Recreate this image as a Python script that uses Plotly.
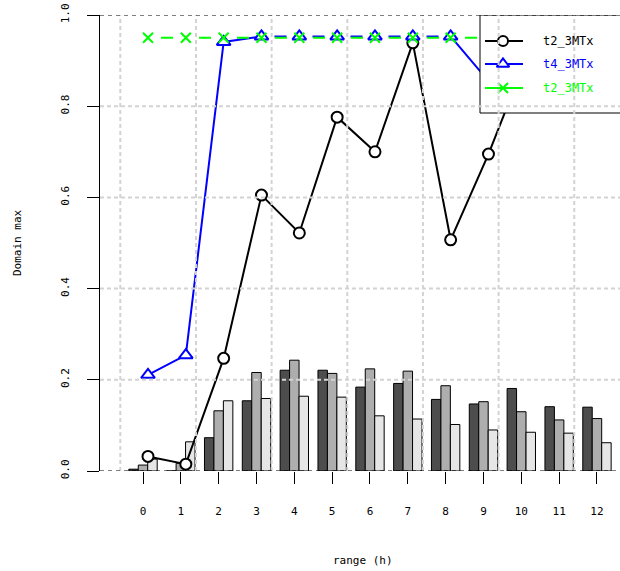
import plotly.graph_objects as go

# ---- data ----
hours = [0, 1, 2, 3, 4, 5, 6, 7, 8, 9, 10, 11, 12]
hour_labels = ["0", "1", "2", "3", "4", "5", "6", "7", "8", "9", "10", "11", "12"]
y_ticks = [0.0, 0.2, 0.4, 0.6, 0.8, 1.0]
y_tick_labels = ["0.0", "0.2", "0.4", "0.6", "0.8", "1.0"]

bars_dark = [0.004, 0.0, 0.073, 0.154, 0.221, 0.221, 0.184, 0.192, 0.157, 0.147, 0.181, 0.141, 0.140]
bars_mid = [0.013, 0.017, 0.132, 0.216, 0.243, 0.214, 0.224, 0.219, 0.187, 0.152, 0.130, 0.112, 0.115]
bars_light = [0.026, 0.064, 0.154, 0.159, 0.164, 0.162, 0.121, 0.114, 0.102, 0.090, 0.085, 0.083, 0.062]

t2_black = [0.032, 0.015, 0.247, 0.605, 0.522, 0.776, 0.700, 0.939, 0.507, 0.695, 0.905, 0.880, 0.900]
t4_blue = [0.211, 0.254, 0.941, 0.953, 0.953, 0.953, 0.953, 0.953, 0.953, 0.855, 0.850, 0.860, 0.850]
t2_green = [0.950, 0.950, 0.950, 0.950, 0.950, 0.950, 0.950, 0.950, 0.950, 0.950, 0.950, 0.950, 0.950]

series_names = ["t2_3MTx", "t4_3MTx", "t2_3MTx"]

FONT = "DejaVu Sans Mono"
BLUE = "#0000FF"
GREEN = "#00FF00"
GAP_DASH = "0px,13px,12px,13px"   # line broken around each point (type "b" look)

fig = go.Figure()

# grouped grey bars
for vals, col in [(bars_dark, "#4D4D4D"), (bars_mid, "#AEAEAE"), (bars_light, "#E6E6E6")]:
    fig.add_trace(go.Bar(x=hours, y=vals, marker=dict(color=col, line=dict(color="black", width=1)),
                         showlegend=False, hoverinfo="skip"))

# line series on their own (slightly shifted) x axis
fig.add_trace(go.Scatter(x=hours, y=t2_black, xaxis="x2", yaxis="y", mode="lines+markers",
                         line=dict(color="black", width=2),
                         marker=dict(symbol="circle", size=11, color="white",
                                     line=dict(color="black", width=2)),
                         showlegend=False))

fig.add_trace(go.Scatter(x=hours[:4], y=t4_blue[:4], xaxis="x2", yaxis="y", mode="lines",
                         line=dict(color=BLUE, width=2), showlegend=False))
fig.add_trace(go.Scatter(x=hours[3:9], y=t4_blue[3:9], xaxis="x2", yaxis="y", mode="lines",
                         line=dict(color=BLUE, width=2, dash=GAP_DASH), showlegend=False))
fig.add_trace(go.Scatter(x=hours[8:], y=t4_blue[8:], xaxis="x2", yaxis="y", mode="lines",
                         line=dict(color=BLUE, width=2), showlegend=False))
fig.add_trace(go.Scatter(x=hours, y=t4_blue, xaxis="x2", yaxis="y", mode="markers",
                         marker=dict(symbol="triangle-up", size=12, color="white",
                                     line=dict(color=BLUE, width=2)),
                         showlegend=False))

fig.add_trace(go.Scatter(x=hours, y=t2_green, xaxis="x2", yaxis="y", mode="lines+markers",
                         line=dict(color=GREEN, width=2, dash=GAP_DASH),
                         marker=dict(symbol="x-thin", size=10, line=dict(color=GREEN, width=2)),
                         showlegend=False))

# hand-drawn legend in a pixel-like overlay frame
fig.add_trace(go.Scatter(x=[480, 640, 640, 480, 480], y=[15, 15, 113, 113, 15], xaxis="x3", yaxis="y3",
                         mode="lines", fill="toself", fillcolor="white",
                         line=dict(color="black", width=1), showlegend=False, hoverinfo="skip"))
legend_rows = [
    (41, "black", dict(symbol="circle", size=10, color="white", line=dict(color="black", width=2))),
    (64, BLUE, dict(symbol="triangle-up", size=11, color="white", line=dict(color=BLUE, width=2))),
    (88, GREEN, dict(symbol="x-thin", size=10, line=dict(color=GREEN, width=2))),
]
for (ypix, col, mk), name in zip(legend_rows, series_names):
    fig.add_trace(go.Scatter(x=[485, 523], y=[ypix, ypix], xaxis="x3", yaxis="y3", mode="lines",
                             line=dict(color=col, width=2), showlegend=False, hoverinfo="skip"))
    fig.add_trace(go.Scatter(x=[503], y=[ypix], xaxis="x3", yaxis="y3", mode="markers",
                             marker=mk, showlegend=False, hoverinfo="skip"))
    fig.add_annotation(x=541, y=ypix, xref="x3", yref="y3", text=name, showarrow=False,
                       xanchor="left", yanchor="middle", font=dict(family=FONT, size=12, color=col))

# dashed grid drawn on top of everything
shapes = []
for gx in [-0.6, 1.4, 3.4, 5.4, 7.4, 9.4, 11.4]:
    shapes.append(dict(type="line", xref="x", yref="y", x0=gx, x1=gx, y0=0, y1=1, layer="above",
                       line=dict(color="#D3D3D3", width=2, dash="4px,3px")))
for gy in [0.2, 0.4, 0.6, 0.8]:
    shapes.append(dict(type="line", xref="paper", yref="y", x0=0, x1=1, y0=gy, y1=gy, layer="above",
                       line=dict(color="#D3D3D3", width=2, dash="4px,3px")))
for gy in [0.0, 1.0]:
    shapes.append(dict(type="line", xref="paper", yref="y", x0=0, x1=1, y0=gy, y1=gy, layer="above",
                       line=dict(color="black", width=1, dash="4px,4px")))

fig.update_layout(
    width=620, height=571,
    margin=dict(l=100, r=0, t=15, b=100),
    paper_bgcolor="white", plot_bgcolor="white",
    barmode="group", bargap=0.25, bargroupgap=0,
    shapes=shapes,
    font=dict(family=FONT, size=11, color="black"),
    xaxis=dict(range=[-1.1367, 12.609], tickvals=hours, ticktext=hour_labels,
               ticks="outside", ticklen=12, tickwidth=1, tickcolor="black",
               showgrid=False, zeroline=False, showline=False,
               tickfont=dict(family=FONT, size=11, color="black"), ticklabelstandoff=18),
    xaxis2=dict(range=[-1.2689, 12.477], overlaying="x", anchor="y", visible=False),
    xaxis3=dict(range=[100, 620], overlaying="x", anchor="y3", visible=False),
    yaxis=dict(range=[0, 1], tickvals=y_ticks, ticktext=y_tick_labels, tickangle=-90,
               ticks="outside", ticklen=12, tickwidth=1, tickcolor="black",
               showgrid=False, zeroline=False, showline=True, linecolor="black", linewidth=1,
               tickfont=dict(family=FONT, size=11, color="black"), ticklabelstandoff=14),
    yaxis3=dict(range=[471, 15], overlaying="y", anchor="x3", visible=False),
    annotations=list(fig.layout.annotations) + [
        dict(text="range (h)", xref="paper", yref="paper", x=(363 - 100) / 520, y=(471 - 560) / 456,
             showarrow=False, xanchor="center", yanchor="middle", font=dict(family=FONT, size=11)),
        dict(text="Domain max", xref="paper", yref="paper", x=(17 - 100) / 520, y=0.5, textangle=-90,
             showarrow=False, xanchor="center", yanchor="middle", font=dict(family=FONT, size=11)),
    ],
)

fig.write_html("out.html")
